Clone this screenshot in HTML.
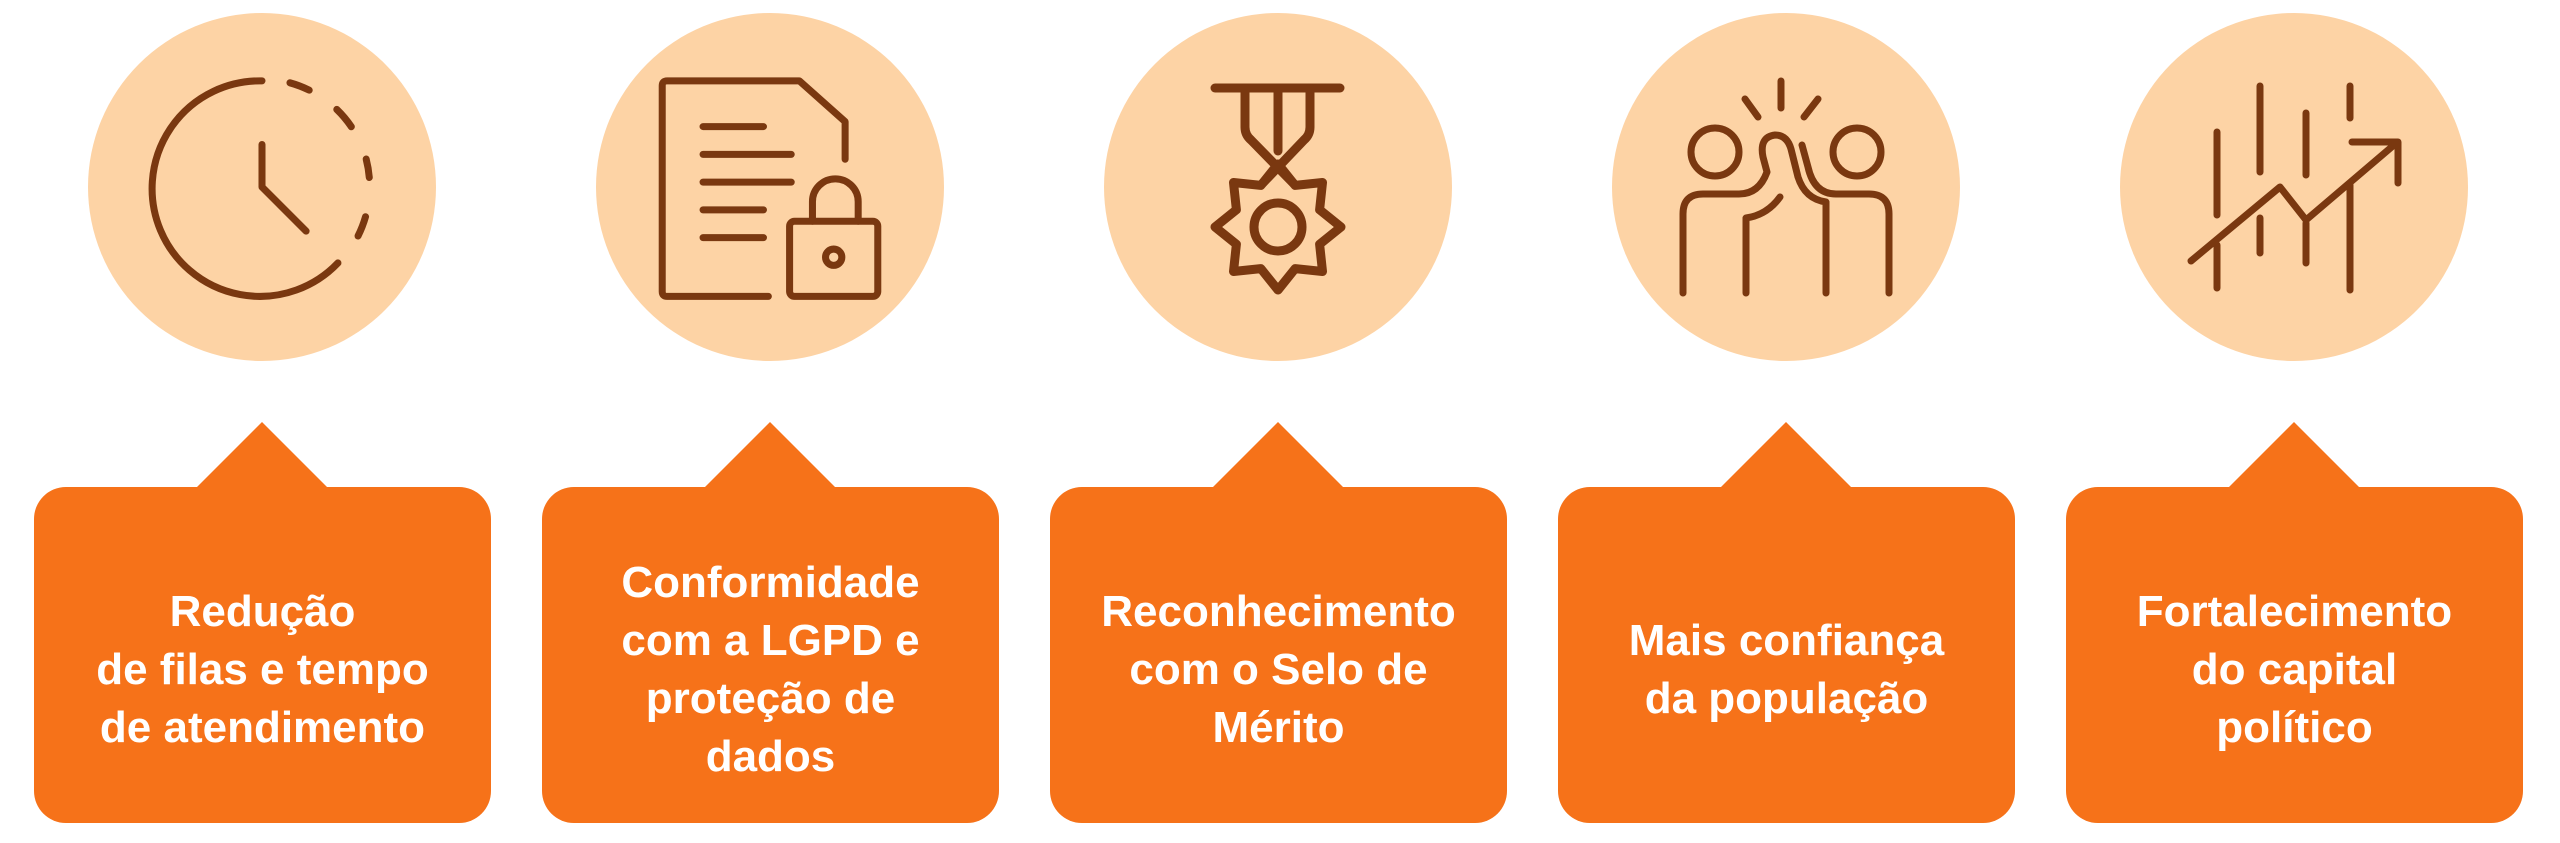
<!DOCTYPE html>
<html><head><meta charset="utf-8"><style>
html,body{margin:0;padding:0;background:#fff;}
body{width:2560px;height:843px;position:relative;overflow:hidden;font-family:"Liberation Sans",sans-serif;}
.col{position:absolute;top:0;width:508px;height:843px;}
.circ{position:absolute;left:80px;top:13px;width:348px;height:348px;border-radius:50%;background:#FDD3A5;}
.circ svg{position:absolute;left:0;top:0;}
.tri{position:absolute;left:188px;top:422px;width:0;height:0;border-left:66px solid transparent;border-right:66px solid transparent;border-bottom:66px solid #F67219;}
.card{position:absolute;left:26px;top:487px;width:457px;height:336px;border-radius:32px;background:#F67219;color:#fff;display:flex;align-items:center;justify-content:center;text-align:center;font-weight:bold;font-size:44px;line-height:58px;box-sizing:border-box;padding:30px 20px 0;}
svg .s{fill:none;stroke:#7A3810;stroke-linecap:round;stroke-linejoin:round;}
</style></head><body>

<div class="col" style="left:8px">
 <div class="circ"><svg width="348" height="348" viewBox="-174 -174 348 348"><g transform="scale(1.633)" class="s" stroke-width="4.3">
  <path d="M0,-65 A66 66 0 1 0 46.5,46.5"/>
  <path d="M17.1,-63.8 A66 66 0 0 1 28.9,-59.3"/>
  <path d="M45.8,-47.5 A66 66 0 0 1 54.7,-36.9"/>
  <path d="M63.8,-17.1 A66 66 0 0 1 65.7,-5.8"/>
  <path d="M63.4,18.2 A66 66 0 0 1 58.8,30"/>
  <path d="M0,-26 V0 L27,27"/>
 </g></svg></div>
 <div class="tri"></div>
 <div class="card">Redução<br>de filas e tempo<br>de atendimento</div>
</div>

<div class="col" style="left:516px">
 <div class="circ"><svg width="348" height="348" viewBox="-174 -174 348 348"><g transform="scale(1.633)" class="s" stroke-width="4.3">
  <path d="M46,-17 V-40 L18,-65 H-63 Q-66,-65 -66,-62 V64 Q-66,67 -63,67 H-1"/>
  <path d="M-41,-37 H-4 M-41,-20 H13 M-41,-3 H13 M-41,14 H-4 M-41,31 H-4"/>
  <rect x="12" y="21" width="54" height="46" rx="3"/>
  <path d="M26,21 V9 A14 14 0 0 1 54,9 V21"/>
  <circle cx="39" cy="43" r="5"/>
 </g></svg></div>
 <div class="tri"></div>
 <div class="card">Conformidade<br>com a LGPD e<br>proteção de<br>dados</div>
</div>

<div class="col" style="left:1024px">
 <div class="circ"><svg width="348" height="348" viewBox="-174 -174 348 348"><g class="s" stroke-width="9">
  <path d="M-63,-99 H62"/>
  <path d="M-33,-99 V-60 Q-33,-52 -27,-47 L17,-2"/>
  <path d="M32,-99 V-60 Q32,-52 26,-47 L-17,-2"/>
  <path d="M0,-99 V-36"/>
  <polygon points="0,-23 17.2,-1.6 44.5,-4.5 41.6,22.8 63,40 41.6,57.2 44.5,84.5 17.2,81.6 0,103 -17.2,81.6 -44.5,84.5 -41.6,57.2 -63,40 -41.6,22.8 -44.5,-4.5 -17.2,-1.6"/>
  <circle cx="0" cy="40" r="24"/>
 </g></svg></div>
 <div class="tri"></div>
 <div class="card">Reconhecimento<br>com o Selo de<br>Mérito</div>
</div>

<div class="col" style="left:1532px">
 <div class="circ"><svg width="348" height="348" viewBox="-174 -174 348 348"><g class="s" stroke-width="7">
  <circle cx="-71" cy="-35" r="24"/>
  <circle cx="71" cy="-35" r="24"/>
  <path d="M-103,106 V27 Q-103,7 -83,7 H-47 Q-27,7 -19,-15 L-23,-30 Q-27,-50 -11,-52 Q1,-52 5,-38 L12,-10 Q19,12 40,15 V106"/>
  <path d="M103,106 V27 Q103,7 83,7 H50 Q28,7 22,-20 L16,-42"/>
  <path d="M-40,106 V31 Q-19,28 -6,10"/>
  <path d="M-5,-106 V-79 M-41,-88 L-28,-70 M32,-88 L18,-70"/>
 </g></svg></div>
 <div class="tri"></div>
 <div class="card">Mais confiança<br>da população</div>
</div>

<div class="col" style="left:2040px">
 <div class="circ"><svg width="348" height="348" viewBox="-174 -174 348 348"><g class="s" stroke-width="7">
  <path d="M-77,-55 V28 M-77,58 V101"/>
  <path d="M-34,-101 V-15 M-34,31 V66"/>
  <path d="M12,-74 V-12 M12,36 V76"/>
  <path d="M56,-101 V-69 M56,-2 V103"/>
  <path d="M-103,74 L-14,0 L12,33 L100,-42"/>
  <path d="M58,-45 H104 V-4"/>
 </g></svg></div>
 <div class="tri"></div>
 <div class="card">Fortalecimento<br>do capital<br>político</div>
</div>

</body></html>
